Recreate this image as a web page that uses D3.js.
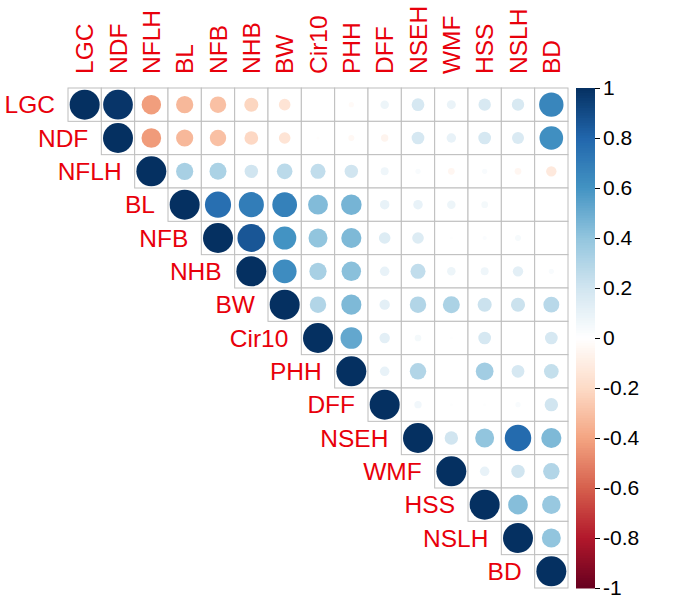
<!DOCTYPE html>
<html>
<head>
<meta charset="utf-8">
<script src="https://cdn.jsdelivr.net/npm/d3@7"></script>
<style>
  body { margin: 0; background: #fff; }
  text { font-family: "Liberation Sans", Arial, sans-serif; }
</style>
</head>
<body>
<div id="vis"></div>
<script>
// frame
const FRAME_WIDTH = 674;
const FRAME_HEIGHT = 603;
const GRID = {left: 68, top: 88, size: 500};

// variable names
const vars = ["LGC", "NDF", "NFLH", "BL", "NFB", "NHB", "BW", "Cir10",
              "PHH", "DFF", "NSEH", "WMF", "HSS", "NSLH", "BD"];

// upper triangle, each row starts on the diagonal
const rLGC   = [1, 0.98, -0.42, -0.33, -0.30, -0.22, -0.15, 0, -0.03, 0.08, 0.18, 0.09, 0.17, 0.17, 0.66];
const rNDF   = [1, -0.43, -0.33, -0.30, -0.21, -0.15, -0.01, -0.04, -0.06, 0.18, 0.10, 0.18, 0.16, 0.62];
const rNFLH  = [1, 0.33, 0.32, 0.20, 0.27, 0.25, 0.20, 0.07, 0.03, -0.05, 0.03, -0.05, -0.12];
const rBL    = [1, 0.76, 0.70, 0.68, 0.44, 0.47, 0.10, 0.10, 0.08, 0.05, 0, 0];
const rNFB   = [1, 0.86, 0.60, 0.40, 0.45, 0.15, 0.15, 0.01, 0.02, 0.04, 0];
const rNHB   = [1, 0.63, 0.33, 0.42, 0.10, 0.25, 0.08, 0.07, 0.12, 0.03];
const rBW    = [1, 0.30, 0.45, 0.12, 0.30, 0.32, 0.22, 0.22, 0.28];
const rCir10 = [1, 0.52, 0.12, 0.05, 0.01, 0.18, 0, 0.18];
const rPHH   = [1, 0.10, 0.30, 0, 0.35, 0.18, 0.24];
const rDFF   = [1, 0.06, 0.01, 0.01, 0.03, 0.20];
const rNSEH  = [1, 0.20, 0.40, 0.78, 0.45];
const rWMF   = [1, 0.10, 0.20, 0.30];
const rHSS   = [1, 0.43, 0.38];
const rNSLH  = [1, 0.40];
const rBD    = [1];

// colour bar ticks
const legendTicks = [-1, -0.8, -0.6, -0.4, -0.2, 0, 0.2, 0.4, 0.6, 0.8, 1];

const rows = [rLGC, rNDF, rNFLH, rBL, rNFB, rNHB, rBW, rCir10, rPHH, rDFF,
              rNSEH, rWMF, rHSS, rNSLH, rBD];

const cells = [];
rows.forEach((row, i) => {
  row.forEach((v, k) => { cells.push({i: i, j: i + k, v: v}); });
});

const svg = d3.select("#vis")
  .append("svg")
    .attr("width", FRAME_WIDTH)
    .attr("height", FRAME_HEIGHT);

const X = d3.scaleBand().domain(vars).range([GRID.left, GRID.left + GRID.size]);
const Y = d3.scaleBand().domain(vars).range([GRID.top, GRID.top + GRID.size]);
const CELL = X.bandwidth();

// corrplot RdBu palette
const COLOR = d3.scaleLinear()
  .domain(d3.range(11).map(k => -1 + k * 0.2))
  .range(["#67001F", "#B2182B", "#D6604D", "#F4A582", "#FDDBC7", "#FFFFFF",
          "#D1E5F0", "#92C5DE", "#4393C3", "#2166AC", "#053061"]);

const R = d3.scaleSqrt().domain([0, 1]).range([0, CELL * 0.45]);

// cells
svg.selectAll("rect.cell")
  .data(cells)
  .enter()
  .append("rect")
    .attr("class", "cell")
    .attr("x", d => X(vars[d.j]))
    .attr("y", d => Y(vars[d.i]))
    .attr("width", CELL)
    .attr("height", CELL)
    .attr("fill", "white")
    .attr("stroke", "#BEBEBE")
    .attr("stroke-width", 1);

svg.selectAll("circle.dot")
  .data(cells)
  .enter()
  .append("circle")
    .attr("class", "dot")
    .attr("cx", d => X(vars[d.j]) + CELL / 2)
    .attr("cy", d => Y(vars[d.i]) + CELL / 2)
    .attr("r", d => R(Math.abs(d.v)))
    .attr("fill", d => COLOR(d.v));

// row labels (left of diagonal)
svg.selectAll("text.rowlab")
  .data(vars)
  .enter()
  .append("text")
    .attr("x", d => X(d) - 13)
    .attr("y", d => Y(d) + CELL / 2)
    .attr("dy", "0.36em")
    .attr("text-anchor", "end")
    .attr("font-size", "24.5px")
    .attr("fill", "#E8000B")
    .text(d => d);

// column labels on top
svg.selectAll("text.collab")
  .data(vars)
  .enter()
  .append("text")
    .attr("transform", d => "translate(" + (X(d) + CELL / 2) + "," + (GRID.top - 14) + ") rotate(-90)")
    .attr("dy", "0.36em")
    .attr("text-anchor", "start")
    .attr("font-size", "24.5px")
    .attr("fill", "#E8000B")
    .text(d => d);

// colour legend
const LEG = {x: 576, w: 19};
const LY = d3.scaleLinear().domain([1, -1]).range([GRID.top, GRID.top + GRID.size]);
const steps = d3.range(200).map(k => 1 - (k + 0.5) * 0.01);

svg.selectAll("rect.leg")
  .data(steps)
  .enter()
  .append("rect")
    .attr("x", LEG.x)
    .attr("y", d => LY(d + 0.005))
    .attr("width", LEG.w)
    .attr("height", LY(0) - LY(0.01) + 0.5)
    .attr("fill", d => COLOR(d));

const axis = svg.append("g")
  .attr("transform", "translate(" + (LEG.x + LEG.w) + ",0)")
  .call(d3.axisRight(LY).tickValues(legendTicks).tickSize(5).tickPadding(3)
        .tickFormat(d => String(d)));
axis.select(".domain").remove();
axis.selectAll("text")
  .attr("font-size", "21px")
  .attr("font-family", "\"Liberation Sans\", Arial, sans-serif")
  .attr("fill", "black");
axis.selectAll("line").attr("stroke", "black");
</script>
</body>
</html>
